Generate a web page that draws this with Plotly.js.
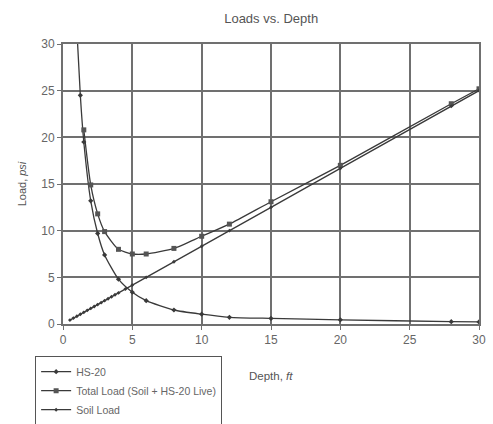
<!DOCTYPE html>
<html>
<head>
<meta charset="utf-8">
<script src="https://cdn.plot.ly/plotly-3.0.1.min.js"></script>
<style>html,body{margin:0;padding:0;background:#fff;}#chart{width:493px;height:424px;}</style>
</head>
<body>
<div id="chart"></div>
<script>
var hsDepth = [1.0, 1.25, 1.5, 2, 2.5, 3, 4, 5, 6, 8, 10, 12, 15, 20, 28, 30];
var hsLoad  = [31.5, 24.5, 19.5, 13.2, 9.7, 7.4, 4.8, 3.4, 2.5, 1.5, 1.05, 0.72, 0.6, 0.45, 0.25, 0.22];

var totDepth = [1.5, 2, 2.5, 3, 4, 5, 6, 8, 10, 12, 15, 20, 28, 30];
var totLoad  = [20.8, 14.9, 11.8, 9.9, 8.0, 7.5, 7.5, 8.1, 9.4, 10.7, 13.1, 17.0, 23.6, 25.2];

var soilDepth = [0.5, 0.75, 1, 1.25, 1.5, 1.75, 2, 2.25, 2.5, 2.75, 3, 3.25, 3.5, 3.75, 4, 4.5, 5, 6, 8, 10, 12, 15, 20, 28, 30];
var soilLoad  = [0.42, 0.63, 0.83, 1.04, 1.25, 1.46, 1.67, 1.88, 2.08, 2.29, 2.5, 2.71, 2.92, 3.13, 3.33, 3.75, 4.17, 5.0, 6.67, 8.33, 10.0, 12.5, 16.67, 23.33, 25.0];

var lineCol = '#3a3a3a';
var traces = [
  {x: hsDepth, y: hsLoad, name: 'HS-20', mode: 'lines+markers',
   line: {color: lineCol, width: 1.3, shape: 'spline', smoothing: 0.6},
   marker: {symbol: 'diamond', size: 4, color: lineCol}},
  {x: totDepth, y: totLoad, name: 'Total Load (Soil + HS-20 Live)', mode: 'lines+markers',
   line: {color: lineCol, width: 1.3, shape: 'spline', smoothing: 0.6},
   marker: {symbol: 'square', size: 5, color: '#555'}},
  {x: soilDepth, y: soilLoad, name: 'Soil Load', mode: 'lines+markers',
   line: {color: lineCol, width: 1.3},
   marker: {symbol: 'diamond', size: 3, color: lineCol}}
];

var gridCol = '#707070';
var layout = {
  width: 493, height: 424,
  margin: {l: 63, r: 14, t: 44, b: 100, autoexpand: false},
  paper_bgcolor: '#fff', plot_bgcolor: '#fff',
  font: {family: 'Liberation Sans, Arial, sans-serif', size: 11, color: '#555'},
  title: {text: 'Loads vs. Depth', x: 0.55, xanchor: 'center', y: 0.957, yanchor: 'middle',
          font: {size: 13, color: '#555'}},
  showlegend: true,
  legend: {x: -0.067, y: -0.115, xanchor: 'left', yanchor: 'top',
           bordercolor: '#555', borderwidth: 1, bgcolor: '#fff',
           font: {size: 10.5, color: '#666'}, tracegroupgap: 0, itemwidth: 30},
  xaxis: {range: [0, 30], dtick: 5, tick0: 0, showgrid: true, gridcolor: gridCol, gridwidth: 2,
          showline: true, linecolor: gridCol, linewidth: 2, mirror: true, zeroline: false,
          ticks: 'outside', ticklen: 4, tickcolor: gridCol, tickfont: {size: 12, color: '#666'}},
  yaxis: {range: [0, 30], dtick: 5, tick0: 0, showgrid: true, gridcolor: gridCol, gridwidth: 2,
          showline: true, linecolor: gridCol, linewidth: 2, mirror: true, zeroline: false,
          ticks: 'outside', ticklen: 4, tickcolor: gridCol, tickfont: {size: 12, color: '#666'},
          title: {text: 'Load, <i>psi</i>', standoff: 12, font: {size: 11, color: '#555'}}},
  annotations: [
    {text: 'Depth, <i>ft</i>', xref: 'paper', yref: 'paper', x: 0.5, y: -0.186,
     xanchor: 'center', yanchor: 'middle', showarrow: false, font: {size: 11.5, color: '#555'}}
  ]
};

Plotly.newPlot('chart', traces, layout, {displayModeBar: false, staticPlot: true});
</script>
</body>
</html>
